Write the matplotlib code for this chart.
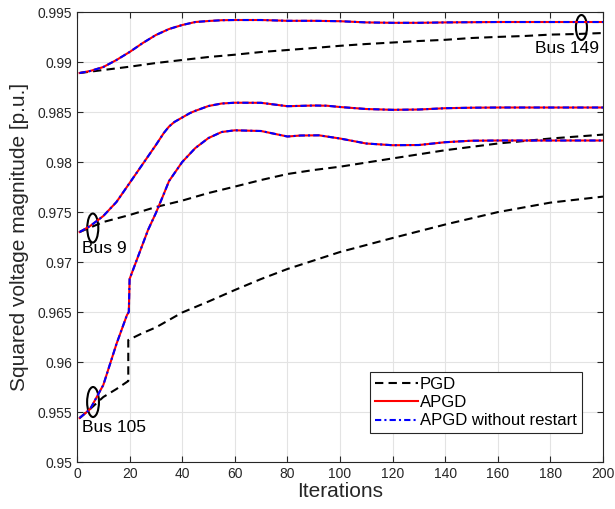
import matplotlib.pyplot as plt
from matplotlib.patches import Ellipse
from matplotlib.ticker import FuncFormatter

plt.rcParams['font.family'] = ['Liberation Sans', 'DejaVu Sans']

# Bus 149
b149_apgd_x = [1, 5, 10, 15, 20, 25, 30, 35, 40, 45, 50, 55, 60, 70, 80, 90, 100, 110, 120, 130, 140, 150, 160, 180, 200]
b149_apgd_y = [0.9889, 0.9891, 0.9895, 0.9902, 0.9910, 0.9919, 0.9927, 0.9933, 0.9937, 0.9940, 0.9941, 0.99418,
               0.9942, 0.9942, 0.99412, 0.99412, 0.99408, 0.99396, 0.99392, 0.99392, 0.99396, 0.99398, 0.9940,
               0.9940, 0.9940]
b149_pgd_x = [1, 10, 20, 30, 40, 50, 60, 70, 80, 90, 100, 110, 120, 130, 140, 150, 160, 170, 180, 190, 200]
b149_pgd_y = [0.9889, 0.9892, 0.98953, 0.9899, 0.9902, 0.9905, 0.99073, 0.9910, 0.9912, 0.9914, 0.99162, 0.9918,
              0.99195, 0.9921, 0.99222, 0.9924, 0.99251, 0.9926, 0.99274, 0.9928, 0.9929]

# Bus 9
b9_apgd_x = [1, 5, 10, 15, 20, 25, 30, 33, 35, 37, 40, 43, 45, 50, 55, 60, 70, 80, 90, 95, 100, 110, 120, 130,
             140, 150, 160, 200]
b9_apgd_y = [0.9730, 0.9736, 0.9746, 0.9760, 0.9779, 0.9798, 0.9817, 0.9829, 0.98355, 0.9840, 0.98445, 0.9849,
             0.98512, 0.9856, 0.98585, 0.98593, 0.98592, 0.98558, 0.98565, 0.98563, 0.9855, 0.9853, 0.98522,
             0.98525, 0.98538, 0.98543, 0.98545, 0.98545]
b9_pgd_x = [1, 10, 20, 30, 40, 50, 60, 70, 80, 90, 100, 120, 140, 160, 180, 200]
b9_pgd_y = [0.9730, 0.9740, 0.9747, 0.9755, 0.97614, 0.9769, 0.97754, 0.9782, 0.9788, 0.9792, 0.97953, 0.98036,
            0.98118, 0.98185, 0.98235, 0.98274]

# Bus 105
b105_apgd_x = [1, 5, 10, 15, 19, 19.7, 20, 22, 25, 27, 30, 33, 35, 40, 45, 50, 55, 60, 70, 80, 85, 92, 100, 110,
               120, 130, 140, 150, 160, 200]
b105_apgd_y = [0.9544, 0.9553, 0.9577, 0.9618, 0.9647, 0.9650, 0.9683, 0.9697, 0.9718, 0.9732, 0.9749, 0.9768,
               0.9781, 0.9800, 0.9814, 0.9824, 0.9830, 0.98317, 0.9831, 0.98255, 0.98265, 0.98267, 0.98235,
               0.98185, 0.98168, 0.9817, 0.98198, 0.98213, 0.98215, 0.98215]
b105_pgd_x = [1, 5, 10, 15, 19.5, 19.5, 25, 30, 40, 50, 60, 70, 80, 90, 100, 110, 120, 140, 160, 180, 200]
b105_pgd_y = [0.9544, 0.9553, 0.9565, 0.9573, 0.9581, 0.9622, 0.9629, 0.96346, 0.96495, 0.96605, 0.9672, 0.9683,
              0.9693, 0.97015, 0.9710, 0.9717, 0.9724, 0.97375, 0.97499, 0.97594, 0.97654]

labels = ['PGD', 'APGD', 'APGD without restart']

fig = plt.figure(figsize=(6.15, 5.09), dpi=100)
ax = fig.add_axes([0.1252, 0.0923, 0.8553, 0.8841])

pgd_sets = [(b149_pgd_x, b149_pgd_y), (b9_pgd_x, b9_pgd_y), (b105_pgd_x, b105_pgd_y)]
apgd_sets = [(b149_apgd_x, b149_apgd_y), (b9_apgd_x, b9_apgd_y), (b105_apgd_x, b105_apgd_y)]

for i, (x, y) in enumerate(pgd_sets):
    ax.plot(x, y, color='black', lw=1.5, dashes=(4, 2.5), label=labels[0] if i == 0 else None)
for i, (x, y) in enumerate(apgd_sets):
    ax.plot(x, y, color='red', lw=1.5, label=labels[1] if i == 0 else None)
for i, (x, y) in enumerate(apgd_sets):
    ax.plot(x, y, color='blue', lw=1.5, dashes=(3, 1.5, 1, 1.5), label=labels[2] if i == 0 else None)

# ellipses and bus labels
ax.add_patch(Ellipse((6.0, 0.9734), 4.2, 0.0029, fill=False, ec='black', lw=1.5))
ax.add_patch(Ellipse((6.1, 0.9560), 4.5, 0.0030, fill=False, ec='black', lw=1.5))
ax.add_patch(Ellipse((191.8, 0.99345), 4.2, 0.0025, fill=False, ec='black', lw=1.5))
ax.text(1.9, 0.9714, 'Bus 9', fontsize=12.5, va='center', ha='left')
ax.text(1.9, 0.95345, 'Bus 105', fontsize=12.5, va='center', ha='left')
ax.text(198.5, 0.99132, 'Bus 149', fontsize=12.5, va='center', ha='right')

ax.set_xlim(0, 200)
ax.set_ylim(0.95, 0.995)
ax.set_xticks(range(0, 201, 20))
ax.set_yticks([0.95 + 0.005 * k for k in range(10)])
ax.yaxis.set_major_formatter(FuncFormatter(lambda v, p: f'{v:.3f}'.rstrip('0')))
ax.tick_params(direction='in', top=True, right=True, labelsize=10, colors='#262626', length=4)
ax.grid(True, color='#e3e3e3', lw=0.8)
ax.set_axisbelow(True)
for s in ax.spines.values():
    s.set_color('#262626')

ax.set_xlabel('Iterations', fontsize=15, color='#262626', labelpad=1)
ax.set_ylabel('Squared voltage magnitude [p.u.]', fontsize=15, color='#262626', labelpad=6)

leg = ax.legend(loc='lower right', fontsize=12, fancybox=False, edgecolor='#262626', framealpha=1,
                handlelength=2.6, handletextpad=0.1, borderpad=0.3, labelspacing=0.2,
                bbox_to_anchor=(0.975, 0.045))
leg.get_frame().set_linewidth(0.8)

fig.savefig('out.png', dpi=100)
